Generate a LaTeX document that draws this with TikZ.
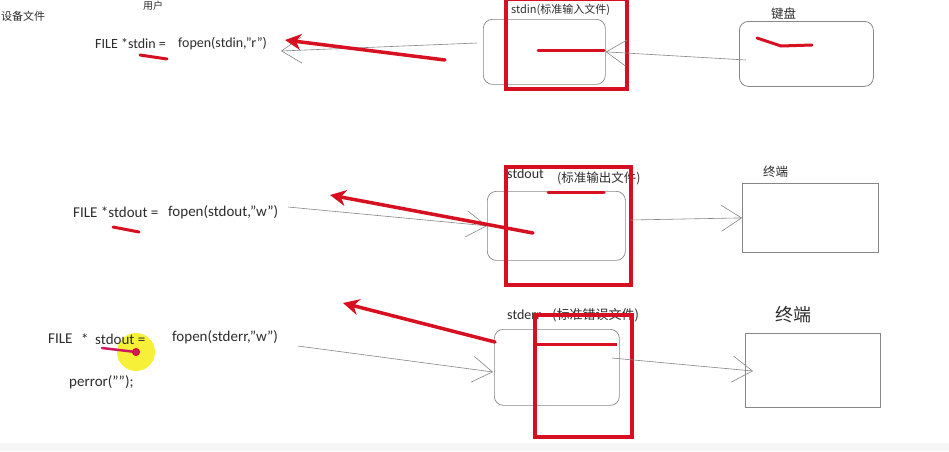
\documentclass[tikz,border=0pt]{standalone}
\usepackage{fontspec}
\setmainfont{Carlito}
\newfontfamily\cjk{Noto Sans CJK SC}
\usetikzlibrary{arrows.meta}
\definecolor{pen}{RGB}{214,16,32}
\definecolor{ln}{RGB}{135,135,135}
\definecolor{txt}{RGB}{45,45,45}
\definecolor{hl}{RGB}{246,240,40}
\definecolor{ptr}{RGB}{205,25,95}
\tikzset{
  lbl/.style={inner sep=0pt, anchor=west, text=txt, font=\fontsize{15}{17}\selectfont},
  clbl/.style={inner sep=0pt, anchor=west, text=txt, font=\cjk\fontsize{11}{13}\selectfont},
  rbox/.style={draw=ln, line width=0.7pt, rounded corners=9pt, anchor=north west, inner sep=0pt},
  sbox/.style={draw=ln, line width=0.8pt, anchor=north west, inner sep=0pt},
  redbox/.style={draw=pen, line width=3.5pt, anchor=north west, inner sep=0pt},
  flow/.style={draw=ln, line width=0.6pt, -{Straight Barb[length=20pt,width=26pt]}},
  penline/.style={draw=pen, line width=3pt, line cap=round},
  penarrow/.style={draw=pen, line width=3.5pt, line cap=round, -{Stealth[length=16pt,width=16pt,inset=5pt]}},
}
\begin{document}
\begin{tikzpicture}[x=1pt,y=-1pt]
\useasboundingbox (0,0) rectangle (949,451);
\fill[white] (0,0) rectangle (949,451);
\fill[gray!7] (0,443) rectangle (949,451);

% top-left fragments
\node[clbl, font=\cjk\fontsize{10}{12}\selectfont] (user) at (143,6) {用户};
\node[clbl, font=\cjk\fontsize{11}{13}\selectfont] (dev) at (1,16) {设备文件};

% ---------- row 1 ----------
\node[lbl, font=\fontsize{14}{16}\selectfont] (code1a) at (95,44) {FILE *stdin =};
\node[lbl, font=\fontsize{14}{16}\selectfont] (code1b) at (178,44) {fopen(stdin,"r")};
\node[rbox, minimum width=122pt, minimum height=65pt] (inbox) at (483,19) {};
\node[clbl] (inlbl) at (511,10) {stdin(标准输入文件)};
\node[sbox, rounded corners=9pt, minimum width=134pt, minimum height=65pt] (kbd) at (739,21) {};
\node[clbl, font=\cjk\fontsize{12.5}{14}\selectfont] (kbdlbl) at (771,14) {键盘};
\node[redbox, minimum width=121pt, minimum height=90pt] (red1) at (504,-3) {};

\coordinate (k1) at (746,60);
\draw[flow] (k1) -- (inbox.east);
\coordinate (a1s) at (477,43);
\coordinate (a1e) at (281,51);
\draw[flow] (a1s) -- (a1e);
\coordinate (r1s) at (445,60);
\coordinate (r1e) at (285,40);
\draw[penarrow] (r1s) -- (r1e);
\draw[penline] (140,55) -- (167,59);
\draw[penline] (538,50) -- (604,50);
\draw[penline] (757,38) -- (781,46) -- (812,45);

% ---------- row 2 ----------
\node[lbl] (code2a) at (73,212) {FILE *stdout =};
\node[lbl] (code2b) at (168,212) {fopen(stdout,"w")};
\node[rbox, minimum width=138pt, minimum height=69pt] (outbox) at (487,191) {};
\node[lbl, font=\fontsize{14}{16}\selectfont] (outlbl) at (507,174) {stdout};
\node[clbl, font=\cjk\fontsize{12.5}{14}\selectfont] (outlbl2) at (557,178) {(标准输出文件)};
\node[sbox, minimum width=136pt, minimum height=69pt] (term1) at (742,183) {};
\node[clbl, font=\cjk\fontsize{12.5}{14}\selectfont] (term1lbl) at (763,172) {终端};
\node[redbox, minimum width=125pt, minimum height=118pt] (red2) at (504,165) {};

\coordinate (a2s) at (288,207);
\draw[flow] (a2s) -- (outbox.west);
\coordinate (o2) at (630,220);
\draw[flow] (o2) -- (term1.west);
\coordinate (r2s) at (533,233);
\coordinate (r2e) at (330,195);
\draw[penarrow] (r2s) -- (r2e);
\draw[penline] (113,227) -- (139,232);
\draw[penline] (548,192) -- (604,192);

% ---------- row 3 ----------
\node[circle, fill=hl, minimum size=38pt, inner sep=0pt, opacity=0.92] (spot) at (136,352) {};
\node[lbl] (file3) at (48,339) {FILE};
\node[lbl] (star3) at (81,339) {*};
\node[lbl] (out3) at (95,339) {stdout =};
\node[lbl] (fop3) at (172,337) {fopen(stderr,"w")};
\node[lbl] (perr) at (69,382) {perror("");};
\draw[draw=ptr, line width=2.5pt, line cap=round] (102,348) -- (spot.center);
\node[circle, draw=pen, fill=ptr, line width=1pt, minimum size=7pt, inner sep=0pt] (dot) at (spot.center) {};

\node[rbox, minimum width=125pt, minimum height=76pt] (errbox) at (494,329) {};
\node[lbl, font=\fontsize{14}{16}\selectfont] (errlbl) at (507,315) {stderr};
\node[clbl, font=\cjk\fontsize{13}{15}\selectfont] (errlbl2) at (552,315) {(标准错误文件)};
\node[sbox, minimum width=135pt, minimum height=74pt] (term2) at (745,333) {};
\node[clbl, font=\cjk\fontsize{18}{20}\selectfont] (term2lbl) at (775,315) {终端};
\node[redbox, minimum width=97pt, minimum height=122pt] (red3) at (533,313) {};

\coordinate (a3s) at (298,346);
\coordinate (a3e) at (493,372);
\draw[flow] (a3s) -- (a3e);
\coordinate (o3) at (612,358);
\coordinate (t3) at (753,371);
\draw[flow] (o3) -- (t3);
\coordinate (r3s) at (495,342);
\coordinate (r3e) at (343,303);
\draw[penarrow] (r3s) -- (r3e);
\draw[penline, line cap=butt] (533,344) -- (617,344);
\end{tikzpicture}
\end{document}
